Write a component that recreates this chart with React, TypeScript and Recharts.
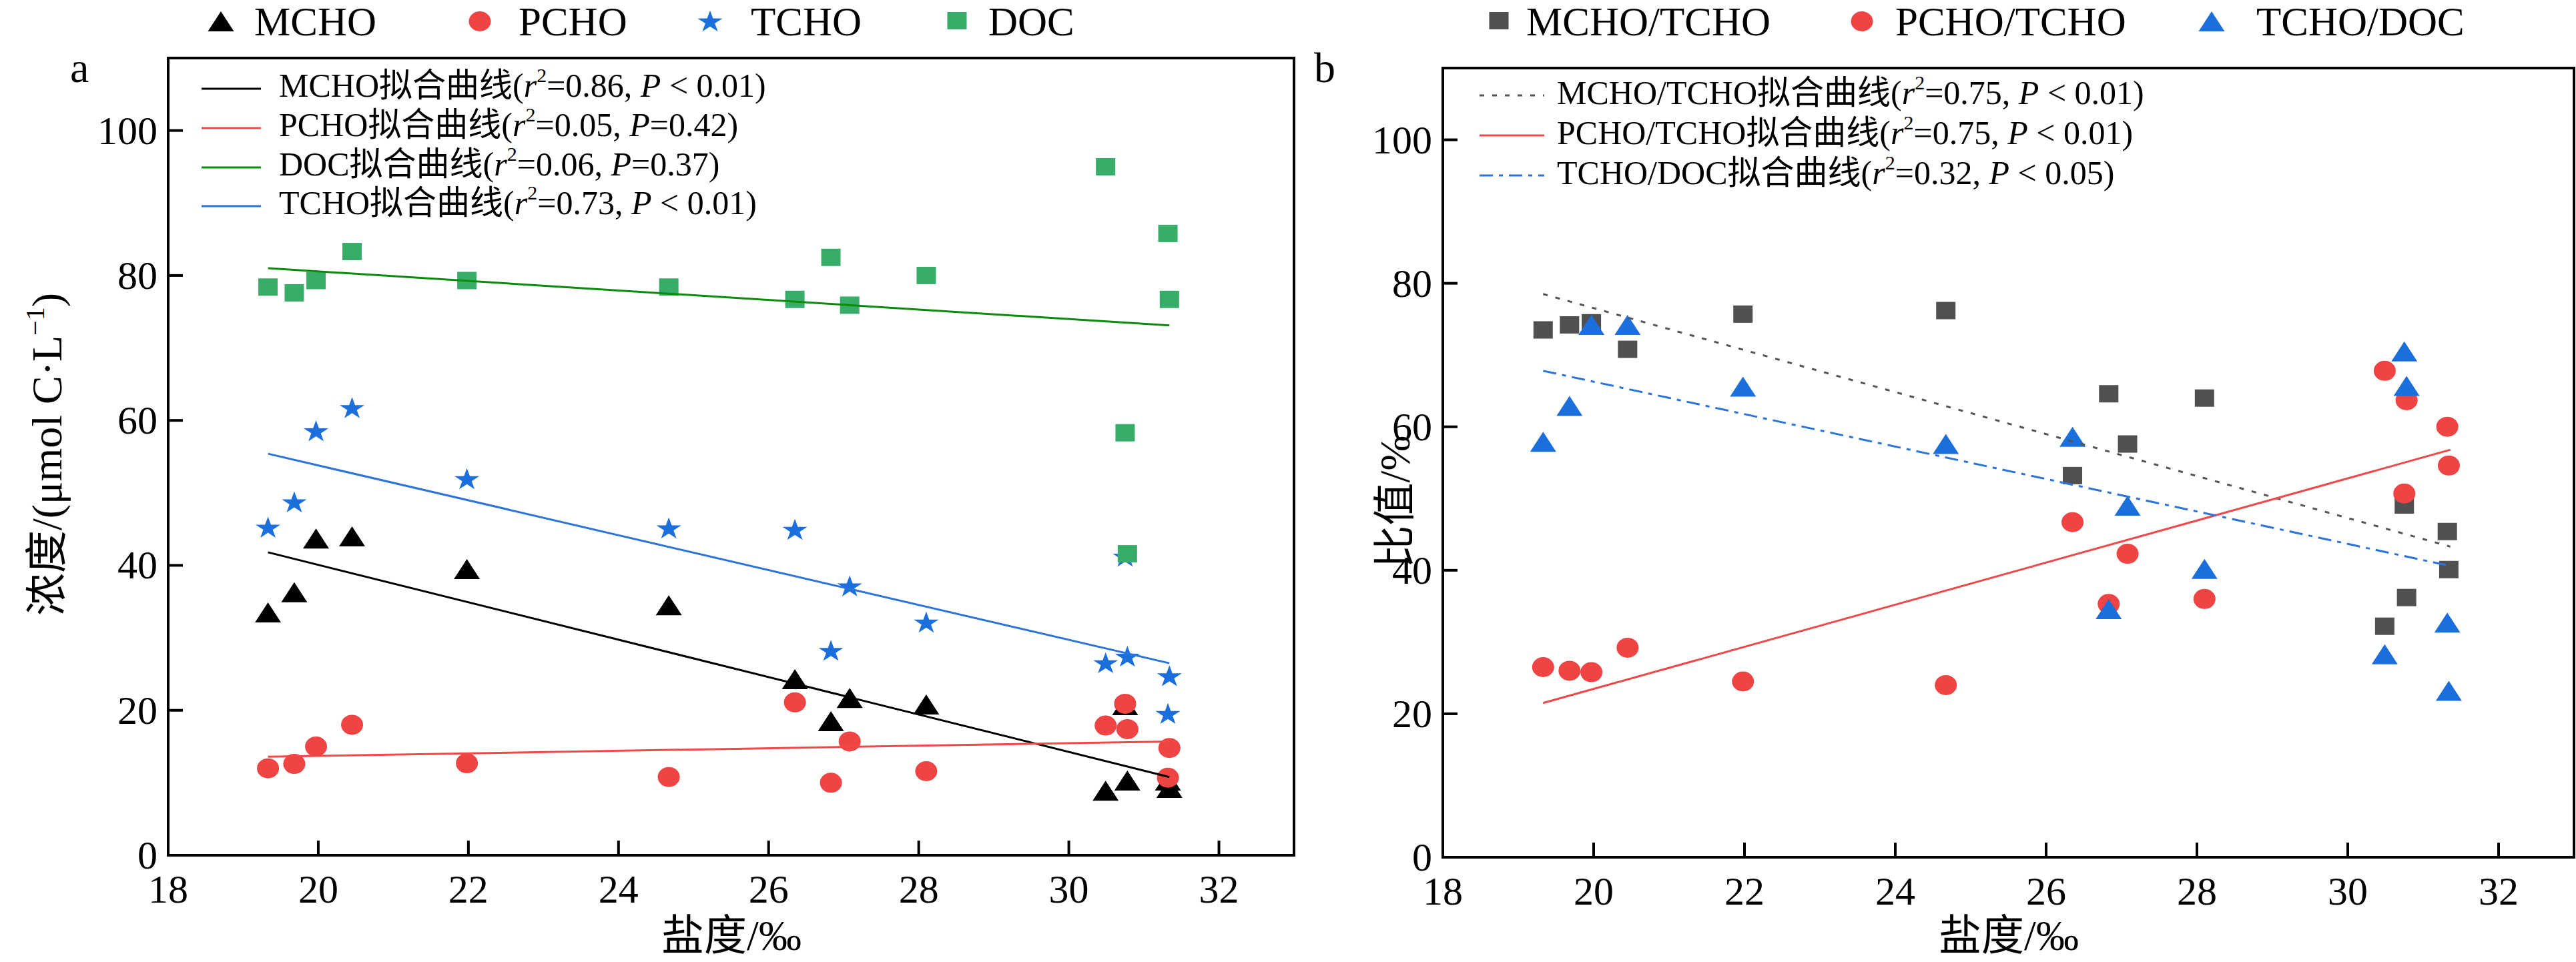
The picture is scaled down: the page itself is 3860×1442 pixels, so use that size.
import { ScatterChart, Scatter, XAxis, YAxis, ReferenceArea } from "recharts";

const FONT = "'Liberation Serif', 'Times New Roman', 'Noto Sans CJK SC', serif";

// salinity of the 15 stations (‰)
const salinity = [19.33, 19.68, 19.97, 20.45, 21.98, 24.67, 26.35, 26.83, 27.08, 28.1, 30.49, 30.75, 30.78, 31.32, 31.34];

// panel a, μmol C/L
const mcho = [33.5, 36.3, 43.7, 44.0, 39.5, 34.5, 24.3, 18.5, 21.7, 20.8, 8.9, 20.7, 10.3, 10.3, 9.3];
const pcho = [12.0, 12.6, 15.0, 18.0, 12.7, 10.8, 21.1, 10.0, 15.7, 11.6, 17.9, 20.9, 17.4, 10.7, 14.8];
const tcho = [45.3, 48.8, 58.6, 61.8, 52.0, 45.2, 45.0, 28.3, 37.2, 32.2, 26.6, 41.3, 27.5, 19.6, 24.8];
const doc = [78.4, 77.6, 79.3, 83.3, 79.3, 78.4, 76.7, 82.5, 75.9, 80.0, 95.0, 58.3, 41.6, 85.8, 76.7];

// panel b, %
const mchoTcho = [73.5, 74.2, 74.5, 70.8, 75.7, 76.2, 53.2, 64.6, 57.6, 64.0, 32.2, 49.1, 36.2, 45.4, 40.1];
const pchoTcho = [26.5, 26.0, 25.8, 29.2, 24.5, 24.0, 46.7, 35.3, 42.3, 36.0, 67.8, 50.7, 63.7, 60.0, 54.6];
const tchoDoc = [57.9, 62.9, 74.2, 74.2, 65.6, 57.6, 58.6, 34.6, 49.0, 40.2, 28.3, 70.5, 65.7, 32.7, 23.2];

// fitted lines, end points
const fitXa = [19.33, 31.34];
const mchoFit = [41.8, 10.8];
const pchoFit = [13.6, 15.7];
const docFit = [81.0, 73.1];
const tchoFit = [55.4, 26.5];

const fitXb = [19.33, 31.36];
const mchoTchoFit = [78.5, 43.3];
const pchoTchoFit = [21.5, 56.8];
const tchoDocFit = [67.8, 40.6];

const xTicks = [18, 20, 22, 24, 26, 28, 30, 32];
const yTicks = [0, 20, 40, 60, 80, 100];

const pts = (xs: number[], ys: number[]) => xs.map((x, i) => ({ x, y: ys[i] }));

const RED = "#f04343";
const BLUE = "#1a6fdc";
const GREEN = "#38ad6a";
const GREY = "#505050";

function triangle(cx: number, cy: number, color: string) {
  return <polygon points={`${cx - 19.5},${cy + 15} ${cx + 19.5},${cy + 15} ${cx},${cy - 15}`} fill={color} />;
}
function circle(cx: number, cy: number, color: string) {
  return <ellipse cx={cx} cy={cy} rx={16.5} ry={15} fill={color} />;
}
function square(cx: number, cy: number, color: string) {
  return <rect x={cx - 14.5} y={cy - 13} width={29} height={26} fill={color} />;
}
function star(cx: number, cy: number, color: string) {
  const p: string[] = [];
  for (let i = 0; i < 10; i++) {
    const a = -Math.PI / 2 + (i * Math.PI) / 5;
    const r = i % 2 === 0 ? 19.5 : 7.5;
    p.push(`${cx + r * Math.cos(a)},${cy + 2 + r * Math.sin(a) * 0.89}`);
  }
  return <polygon points={p.join(" ")} fill={color} />;
}

const shapeOf = (fn: (cx: number, cy: number, c: string) => any, color: string) => (p: any) => fn(p.cx, p.cy, color);
const noDot = () => <g />;

function XTick({ x, y, payload }: any) {
  return (
    <g>
      <line x1={x} x2={x} y1={y} y2={y - 22} stroke="#000" strokeWidth={4} />
      <text x={x} y={y + 71} textAnchor="middle" fontSize={60} fontFamily={FONT} fill="#000">
        {payload.value}
      </text>
    </g>
  );
}

function YTick({ x, y, payload }: any) {
  return (
    <g>
      <line x1={x} x2={x + 22} y1={y} y2={y} stroke="#000" strokeWidth={4} />
      <text x={x - 16} y={y + 20} textAnchor="end" fontSize={60} fontFamily={FONT} fill="#000">
        {payload.value}
      </text>
    </g>
  );
}

function Axes() {
  return [
    <XAxis
      key="x"
      type="number"
      dataKey="x"
      domain={[18, 33]}
      ticks={xTicks}
      interval={0}
      allowDataOverflow
      height={100}
      tickSize={0}
      tickMargin={0}
      tickLine={false}
      axisLine={{ stroke: "#000", strokeWidth: 4 }}
      tick={XTick}
    />,
    <YAxis
      key="y"
      type="number"
      dataKey="y"
      domain={[0, 110]}
      ticks={yTicks}
      interval={0}
      allowDataOverflow
      width={150}
      tickSize={0}
      tickMargin={0}
      tickLine={false}
      axisLine={{ stroke: "#000", strokeWidth: 4 }}
      tick={YTick}
    />,
  ];
}

function FitLabel({ x, y, name, r2, p }: { x: number; y: number; name: string; r2: string; p: string }) {
  return (
    <text x={x} y={y} fontSize={50} fontFamily={FONT} fill="#000">
      {name}拟合曲线(
      <tspan fontStyle="italic">r</tspan>
      <tspan fontSize={30} dy={-22}>2</tspan>
      <tspan dy={22}>{`=${r2}, `}</tspan>
      <tspan fontStyle="italic">P</tspan>
      <tspan>{p})</tspan>
    </text>
  );
}

function LegendText({ x, label }: { x: number; label: string }) {
  return (
    <text x={x} y={53} fontSize={61} fontFamily={FONT} fill="#000">
      {label}
    </text>
  );
}

function Overlay() {
  return (
    <svg width={3860} height={1442} style={{ position: "absolute", left: 0, top: 0, pointerEvents: "none" }}>
      {/* top legends */}
      {triangle(331, 32, "#000")}
      <LegendText x={381} label="MCHO" />
      {circle(719, 32, RED)}
      <LegendText x={777} label="PCHO" />
      {star(1064, 31, BLUE)}
      <LegendText x={1125} label="TCHO" />
      {square(1434, 31, GREEN)}
      <LegendText x={1481} label="DOC" />

      {square(2246, 31, GREY)}
      <LegendText x={2287} label="MCHO/TCHO" />
      {circle(2790, 32, RED)}
      <LegendText x={2840} label="PCHO/TCHO" />
      {triangle(3314, 32, BLUE)}
      <LegendText x={3381} label="TCHO/DOC" />

      {/* panel letters */}
      <text x={105} y={123} fontSize={64} fontFamily={FONT}>a</text>
      <text x={1969} y={123} fontSize={64} fontFamily={FONT}>b</text>

      {/* fit legends, panel a */}
      <line x1={302} x2={391} y1={133} y2={133} stroke="#000" strokeWidth={3} />
      <FitLabel x={418} y={145} name="MCHO" r2="0.86" p=" < 0.01" />
      <line x1={302} x2={391} y1={192} y2={192} stroke="#f04848" strokeWidth={3} />
      <FitLabel x={418} y={204} name="PCHO" r2="0.05" p="=0.42" />
      <line x1={302} x2={391} y1={251} y2={251} stroke="#0b8b0b" strokeWidth={3} />
      <FitLabel x={418} y={263} name="DOC" r2="0.06" p="=0.37" />
      <line x1={302} x2={391} y1={309} y2={309} stroke="#2a72dc" strokeWidth={3} />
      <FitLabel x={418} y={321} name="TCHO" r2="0.73" p=" < 0.01" />

      {/* fit legends, panel b */}
      <line x1={2217} x2={2314} y1={143} y2={143} stroke="#555" strokeWidth={3} strokeDasharray="7 12" />
      <FitLabel x={2333} y={156} name="MCHO/TCHO" r2="0.75" p=" < 0.01" />
      <line x1={2217} x2={2314} y1={203} y2={203} stroke="#f04848" strokeWidth={3} />
      <FitLabel x={2333} y={216} name="PCHO/TCHO" r2="0.75" p=" < 0.01" />
      <line x1={2217} x2={2314} y1={263} y2={263} stroke="#2a72dc" strokeWidth={3} strokeDasharray="20 9 6 9" />
      <FitLabel x={2333} y={276} name="TCHO/DOC" r2="0.32" p=" < 0.05" />

      {/* axis titles */}
      <text transform="translate(92,681) rotate(-90)" textAnchor="middle" fontSize={64} fontFamily={FONT}>
        浓度/(μmol C·L
        <tspan fontSize={40} dy={-26}>−1</tspan>
        <tspan dy={26}>)</tspan>
      </text>
      <text transform="translate(2112,752) rotate(-90)" textAnchor="middle" fontSize={64} fontFamily={FONT}>
        比值/%
      </text>
      <text x={1096} y={1424} textAnchor="middle" fontSize={64} fontFamily={FONT}>
        盐度/‰
      </text>
      <text x={3010} y={1424} textAnchor="middle" fontSize={64} fontFamily={FONT}>
        盐度/‰
      </text>
    </svg>
  );
}

export default function App() {
  return (
    <div style={{ position: "absolute", left: 0, top: 0, width: 3860, height: 1442, background: "#fff" }}>
      <div style={{ position: "absolute", left: 0, top: 0 }}>
        <ScatterChart width={1960} height={1442} margin={{ top: 87, right: 21, bottom: 60, left: 102 }}>
          {Axes()}
          <ReferenceArea x1={18} x2={33} y1={0} y2={110} fill="none" stroke="#000" strokeWidth={4} />
          <Scatter data={pts(salinity, mcho)} shape={shapeOf(triangle, "#000")} isAnimationActive={false} />
          <Scatter data={pts(salinity, pcho)} shape={shapeOf(circle, RED)} isAnimationActive={false} />
          <Scatter data={pts(salinity, tcho)} shape={shapeOf(star, BLUE)} isAnimationActive={false} />
          <Scatter data={pts(salinity, doc)} shape={shapeOf(square, GREEN)} isAnimationActive={false} />
          <Scatter data={pts(fitXa, mchoFit)} line={{ stroke: "#000", strokeWidth: 3 }} shape={noDot} isAnimationActive={false} />
          <Scatter data={pts(fitXa, pchoFit)} line={{ stroke: "#f04848", strokeWidth: 3 }} shape={noDot} isAnimationActive={false} />
          <Scatter data={pts(fitXa, docFit)} line={{ stroke: "#0b8b0b", strokeWidth: 3 }} shape={noDot} isAnimationActive={false} />
          <Scatter data={pts(fitXa, tchoFit)} line={{ stroke: "#2a72dc", strokeWidth: 3 }} shape={noDot} isAnimationActive={false} />
        </ScatterChart>
      </div>
      <div style={{ position: "absolute", left: 1960, top: 0 }}>
        <ScatterChart width={1900} height={1442} margin={{ top: 102, right: 3, bottom: 57, left: 52 }}>
          {Axes()}
          <ReferenceArea x1={18} x2={33} y1={0} y2={110} fill="none" stroke="#000" strokeWidth={4} />
          <Scatter data={pts(salinity, mchoTcho)} shape={shapeOf(square, GREY)} isAnimationActive={false} />
          <Scatter data={pts(salinity, pchoTcho)} shape={shapeOf(circle, RED)} isAnimationActive={false} />
          <Scatter data={pts(salinity, tchoDoc)} shape={shapeOf(triangle, BLUE)} isAnimationActive={false} />
          <Scatter
            data={pts(fitXb, mchoTchoFit)}
            line={{ stroke: "#555", strokeWidth: 3, strokeDasharray: "7 12" }}
            shape={noDot}
            isAnimationActive={false}
          />
          <Scatter data={pts(fitXb, pchoTchoFit)} line={{ stroke: "#f04848", strokeWidth: 3 }} shape={noDot} isAnimationActive={false} />
          <Scatter
            data={pts(fitXb, tchoDocFit)}
            line={{ stroke: "#2a72dc", strokeWidth: 3, strokeDasharray: "20 9 6 9" }}
            shape={noDot}
            isAnimationActive={false}
          />
        </ScatterChart>
      </div>
      <Overlay />
    </div>
  );
}
